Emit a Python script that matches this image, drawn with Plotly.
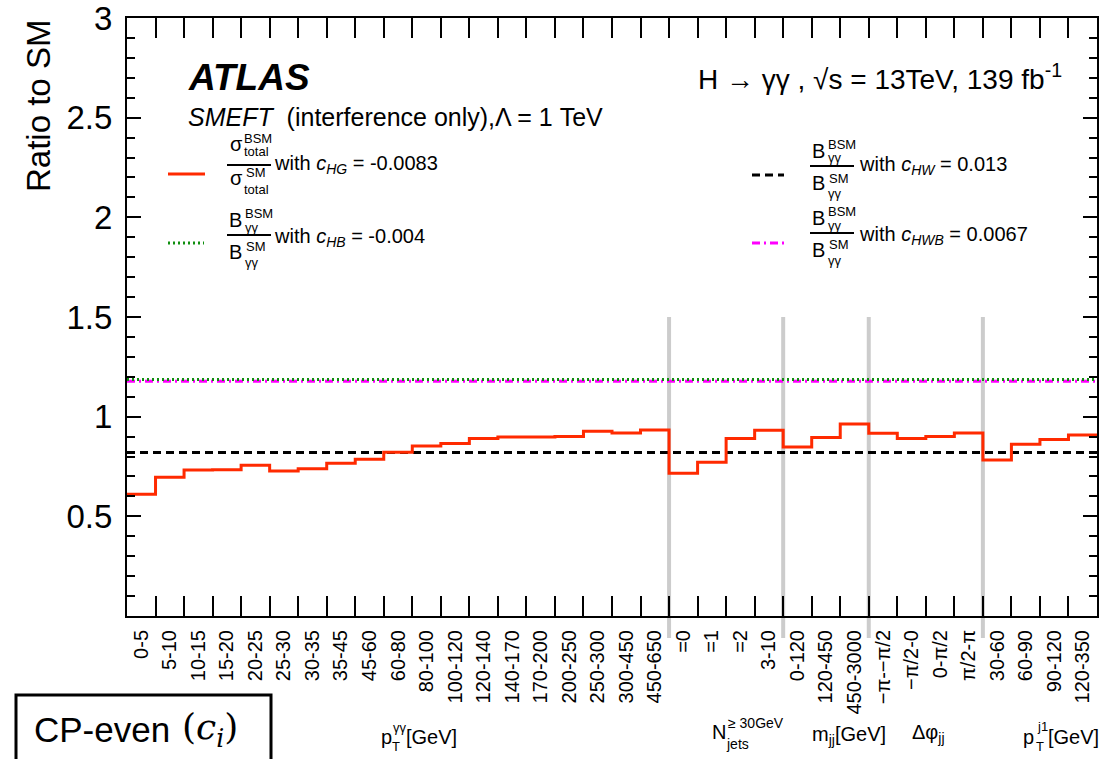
import plotly.graph_objects as go

# ---------------- data ----------------
bin_labels = ["0-5", "5-10", "10-15", "15-20", "20-25", "25-30", "30-35", "35-45",
              "45-60", "60-80", "80-100", "100-120", "120-140", "140-170", "170-200",
              "200-250", "250-300", "300-450", "450-650",
              "=0", "=1", "=2", "3-10",
              "0-120", "120-450", "450-3000",
              "−π-−π/2", "−π/2-0", "0-π/2", "π/2-π",
              "30-60", "60-90", "90-120", "120-350"]
ratio_cHG = [0.611, 0.696, 0.733, 0.734, 0.756, 0.728, 0.739, 0.766, 0.786, 0.821,
             0.853, 0.866, 0.891, 0.898, 0.898, 0.901, 0.927, 0.918, 0.933,
             0.716, 0.771, 0.891, 0.932,
             0.848, 0.896, 0.963,
             0.917, 0.890, 0.900, 0.918,
             0.783, 0.861, 0.886, 0.908]
ratio_cHW = 0.820
ratio_cHB = 1.186
ratio_cHWB = 1.178
group_edges = [19, 23, 26, 30]
y_ticks = [0.5, 1, 1.5, 2, 2.5, 3]
y_tick_text = ["0.5", "1", "1.5", "2", "2.5", "3"]

FONT = "Liberation Sans, Arial, sans-serif"
RED = "#ff2a00"
GREEN = "#0f8f0f"
MAGENTA = "#ff00ff"

W, H = 1115, 759
L, R, T, B = 127, 1097, 18, 616

nb = len(bin_labels)
edges = list(range(nb + 1))
centers = [i + 0.5 for i in range(nb)]


def px(x):
    return (x - L) / (R - L)


def py(y):
    return (B - y) / (B - T)


fig = go.Figure()

# horizontal reference lines
fig.add_trace(go.Scatter(x=[0, nb], y=[ratio_cHW, ratio_cHW], mode="lines",
                         line=dict(color="black", width=3, dash="8px,5px"),
                         showlegend=False, hoverinfo="skip"))
fig.add_trace(go.Scatter(x=[0, nb], y=[ratio_cHWB, ratio_cHWB], mode="lines",
                         line=dict(color=MAGENTA, width=3, dash="8px,4px,2px,4px"),
                         showlegend=False, hoverinfo="skip"))
fig.add_trace(go.Scatter(x=[0, nb], y=[ratio_cHB, ratio_cHB], mode="lines",
                         line=dict(color=GREEN, width=3, dash="2px,3px"),
                         showlegend=False, hoverinfo="skip"))
# step histogram
fig.add_trace(go.Scatter(x=edges, y=ratio_cHG + [ratio_cHG[-1]], mode="lines",
                         line=dict(color=RED, width=3, shape="hv"),
                         showlegend=False, hoverinfo="skip"))

shapes = []
for e in group_edges:
    shapes.append(dict(type="line", xref="x", yref="paper", x0=e, x1=e,
                       y0=py(638), y1=1.5 / 3.0, layer="below",
                       line=dict(color="#cccccc", width=4)))

annotations = []


def text(x, y, s, size, xanchor="left", yanchor="middle", family=FONT, **kw):
    annotations.append(dict(x=px(x), y=py(y), xref="paper", yref="paper", text=s,
                            showarrow=False, xanchor=xanchor, yanchor=yanchor,
                            borderpad=0,
                            font=dict(size=size, family=family, color="black"), **kw))


def hline(x0, x1, y, color, width, dash="solid"):
    shapes.append(dict(type="line", xref="paper", yref="paper", x0=px(x0), x1=px(x1),
                       y0=py(y), y1=py(y), line=dict(color=color, width=width, dash=dash)))


# header
text(187, 77, "<b><i>ATLAS</i></b>", 37)
text(697, 77, "H → γγ , √s = 13TeV, 139 fb<sup>-1</sup>", 28)
text(187, 117, "<i>SMEFT</i>  (interference only),Λ = 1 TeV", 25)

# legend samples
hline(168, 205, 174, RED, 3)
hline(168, 204, 243, GREEN, 3, "2px,3px")
hline(752, 784, 175, "black", 3, "8px,5px")
hline(752, 784, 243, MAGENTA, 3, "8px,4px,2px,4px")


def frac_sigma(x, bar):
    text(x + 2, bar - 21, "σ", 20)
    text(x + 16, bar - 27, "BSM", 13)
    text(x + 16, bar - 13, "total", 13)
    hline(x, x + 44, bar, "black", 2)
    text(x + 2, bar + 13, "σ", 20)
    text(x + 18, bar + 7, "SM", 13)
    text(x + 16, bar + 24, "total", 13)


def frac_B(x, bar):
    text(x + 1, bar - 15, "B", 20)
    text(x + 17, bar - 22, "BSM", 13)
    text(x + 17, bar - 8, "γγ", 13)
    hline(x, x + 44, bar, "black", 2)
    text(x + 1, bar + 17, "B", 20)
    text(x + 18, bar + 12, "SM", 13)
    text(x + 17, bar + 27, "γγ", 13)


frac_sigma(227, 165)
text(273, 165, "with <i>c</i><sub><i>HG</i></sub> = -0.0083", 20)
frac_B(227, 235)
text(273, 237, "with <i>c</i><sub><i>HB</i></sub> = -0.004", 20)
frac_B(810, 166)
text(858, 166, "with <i>c</i><sub><i>HW</i></sub> = 0.013", 20)
frac_B(810, 233)
text(858, 235, "with <i>c</i><sub><i>HWB</i></sub> = 0.0067", 20)

# category labels under x axis
text(380, 737, "p", 20)
text(392, 728, "γγ", 13)
text(391, 746, "T", 13)
text(405, 737, "[GeV]", 20)

text(711, 732, "N", 20)
text(727, 723, "≥ 30GeV", 14)
text(725, 744, "jets", 14)

text(811, 735, "m<sub>jj</sub>[GeV]", 20)
text(911, 733, "Δφ<sub>jj</sub>", 20)

text(1022, 737, "p", 20)
text(1036, 726, "j1", 13)
text(1035, 746, "T", 13)
text(1047, 737, "[GeV]", 20)

# y axis title
annotations.append(dict(x=px(38), y=py(18), xref="paper", yref="paper",
                        text="Ratio to SM", textangle=-90, showarrow=False,
                        xanchor="center", yanchor="top",
                        font=dict(size=33, family=FONT, color="black")))

# CP-even box
shapes.append(dict(type="rect", xref="paper", yref="paper", x0=px(16), x1=px(271),
                   y0=py(775), y1=py(695), line=dict(color="black", width=3),
                   fillcolor="white"))
text(33, 729, "CP-even", 35)
text(181, 729, "(<i>c</i><sub><i>i</i></sub>)", 36, family="DejaVu Serif, serif")

fig.update_layout(
    width=W, height=H,
    margin=dict(l=L, r=W - R, t=T, b=H - B, autoexpand=False),
    paper_bgcolor="white", plot_bgcolor="white",
    showlegend=False,
    font=dict(family=FONT, color="black"),
    shapes=shapes, annotations=annotations,
    xaxis=dict(range=[0, nb], tickmode="array", tickvals=centers, ticktext=bin_labels,
               tickangle=-90, ticks="", showgrid=False, zeroline=False,
               showline=True, linecolor="black", linewidth=2, mirror="ticks",
               tickfont=dict(size=20, family=FONT, color="black"),
               ticklabelstandoff=4, automargin=False,
               minor=dict(tickmode="array", tickvals=edges[1:-1], ticks="inside",
                          ticklen=20, tickwidth=2, tickcolor="black", showgrid=False)),
    yaxis=dict(range=[0, 3], tickmode="array", tickvals=y_ticks, ticktext=y_tick_text,
               ticks="inside", ticklen=14, tickwidth=2, tickcolor="black",
               showgrid=False, zeroline=False,
               showline=True, linecolor="black", linewidth=2, mirror="ticks",
               tickfont=dict(size=33, family=FONT, color="black"),
               ticklabelstandoff=6, ticklabeloverflow="allow", automargin=False,
               minor=dict(dtick=0.1, tick0=0, ticks="inside", ticklen=8, tickwidth=2,
                          tickcolor="black", showgrid=False)),
)

fig.write_html("out.html")
